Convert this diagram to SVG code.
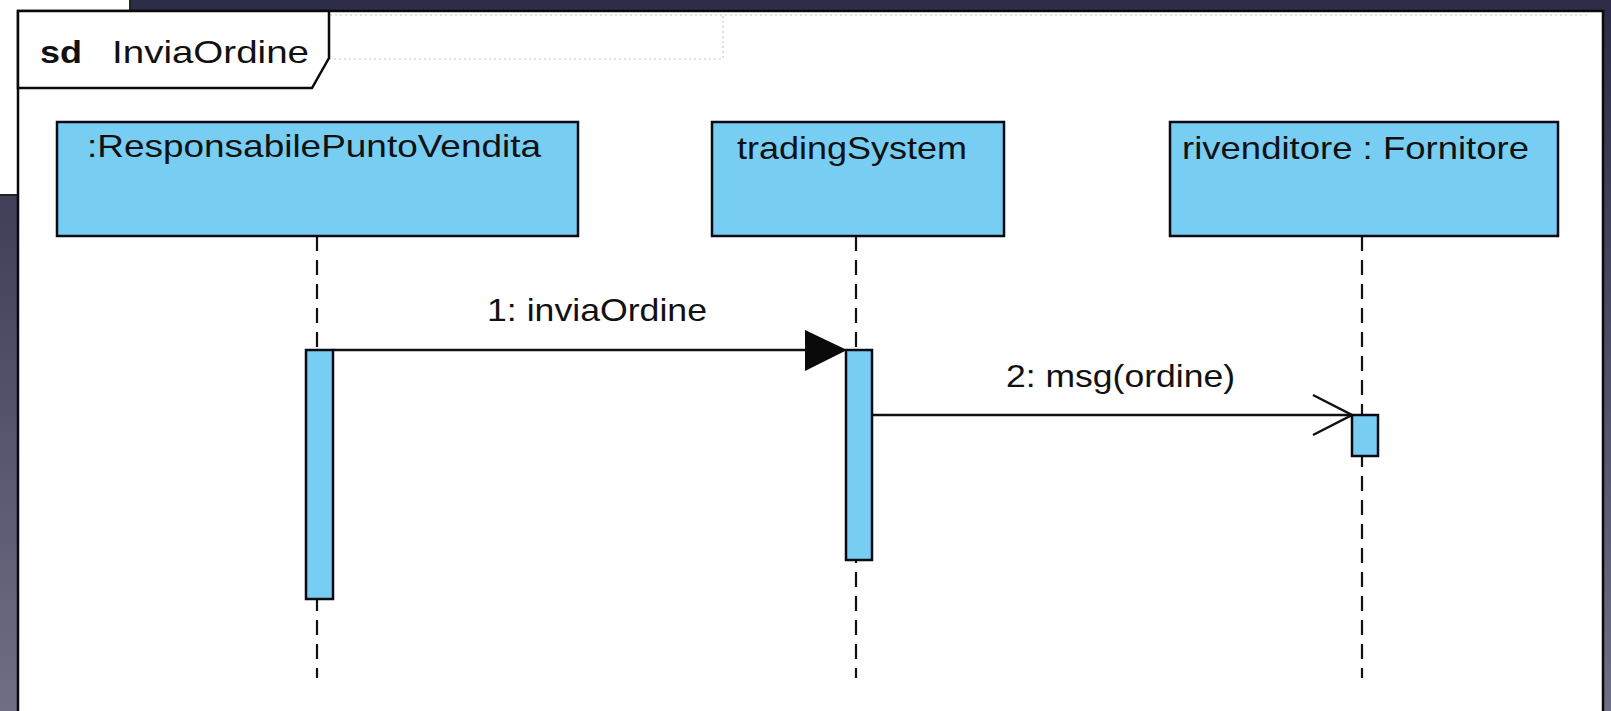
<svg xmlns="http://www.w3.org/2000/svg" width="1611" height="711" viewBox="0 0 1611 711">
  <defs>
    <linearGradient id="bg" x1="0" y1="0" x2="0" y2="1">
      <stop offset="0" stop-color="#2c2c48"/>
      <stop offset="0.5" stop-color="#4e4e68"/>
      <stop offset="1" stop-color="#6e6e84"/>
    </linearGradient>
    <style>
      .box { fill: #78cdf3; stroke: #0a0a14; stroke-width: 2.5; }
      .bar { fill: #78cdf3; stroke: #0a0a14; stroke-width: 2.5; }
      .life { stroke: #111; stroke-width: 2.2; stroke-dasharray: 15 9; fill: none; }
      .msg { stroke: #111; stroke-width: 2.5; fill: none; }
      .t { font-family: "Liberation Sans", Arial, sans-serif; font-size: 32px; fill: #111; }
      .faint { stroke: #c8c8c8; stroke-width: 1.2; stroke-dasharray: 2 3; fill: none; }
    </style>
  </defs>

  <!-- background -->
  <rect x="0" y="0" width="1611" height="711" fill="url(#bg)"/>
  <!-- window behind at top-left -->
  <rect x="0" y="0" width="130" height="195" fill="#ffffff"/>
  <path d="M130,0 V12 M0,195 H18" stroke="#222" stroke-width="2" fill="none"/>

  <!-- frame -->
  <g id="frame">
    <rect x="18" y="11" width="1585" height="720" fill="#ffffff"/>
    <path d="M18,730 V11 H1603 V730" stroke="#0a0a0a" stroke-width="2.5" fill="none"/>
    <path class="faint" d="M329,59 H723 V16 M20,15 H1590"/>
    <path d="M18,11 H329 V58 L312,88 H18 Z" fill="#ffffff" stroke="#0a0a0a" stroke-width="2.5"/>
    <text class="t" x="40" y="63" font-weight="bold" font-size="30" textLength="42" lengthAdjust="spacingAndGlyphs">sd</text>
    <text class="t" x="112" y="63" font-size="30" textLength="197" lengthAdjust="spacingAndGlyphs">InviaOrdine</text>
  </g>

  <!-- lifelines -->
  <g id="connectors">
    <path class="life" d="M317,236 V678"/>
    <path class="life" d="M856,236 V678"/>
    <path class="life" d="M1362,236 V678"/>

    <!-- message 1 -->
    <path class="msg" d="M333,350 H812"/>
    <polygon points="805,330 847,350 805,371" fill="#0a0a0a"/>
    <text class="t" x="487" y="321" textLength="220" lengthAdjust="spacingAndGlyphs">1: inviaOrdine</text>

    <!-- message 2 -->
    <path class="msg" d="M872,415 H1351"/>
    <polyline class="msg" points="1313,395 1352,415 1313,435"/>
    <text class="t" x="1006" y="387" textLength="229" lengthAdjust="spacingAndGlyphs">2: msg(ordine)</text>
  </g>

  <!-- nodes -->
  <g id="responsabile">
    <rect class="box" x="57" y="122" width="521" height="114"/>
    <text class="t" x="87" y="157" textLength="454" lengthAdjust="spacingAndGlyphs">:ResponsabilePuntoVendita</text>
    <rect class="bar" x="306" y="350" width="27" height="249"/>
  </g>
  <g id="tradingSystem">
    <rect class="box" x="712" y="122" width="292" height="114"/>
    <text class="t" x="737" y="159" textLength="230" lengthAdjust="spacingAndGlyphs">tradingSystem</text>
    <rect class="bar" x="846" y="350" width="26" height="210"/>
  </g>
  <g id="rivenditore">
    <rect class="box" x="1170" y="122" width="388" height="114"/>
    <text class="t" x="1182" y="159" textLength="347" lengthAdjust="spacingAndGlyphs">rivenditore : Fornitore</text>
    <rect class="bar" x="1352" y="415" width="26" height="41"/>
  </g>
</svg>
